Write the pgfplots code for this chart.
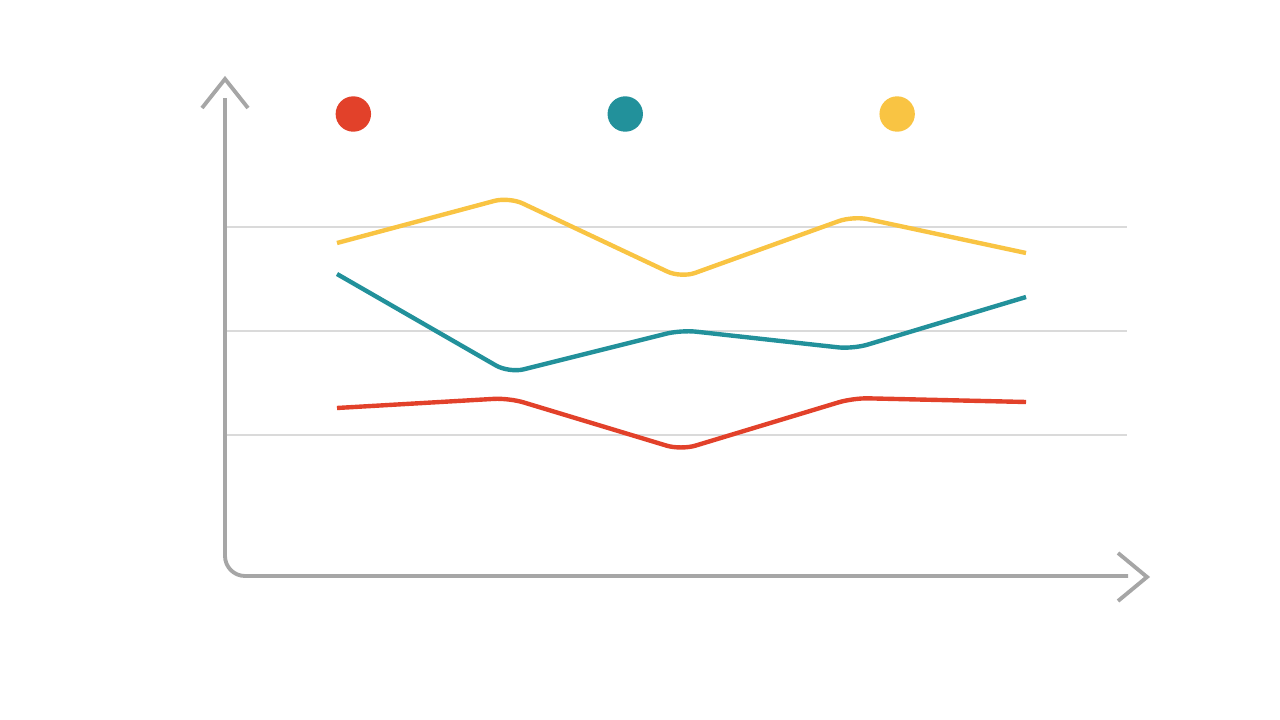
\documentclass[border=0pt]{standalone}
\usepackage{pgfplots}
\pgfplotsset{compat=1.18}

\definecolor{cred}{HTML}{E2412A}
\definecolor{cteal}{HTML}{22919B}
\definecolor{cyellow}{HTML}{F9C443}
\definecolor{caxis}{HTML}{A6A6A6}
\definecolor{cgrid}{HTML}{DADADA}

\begin{document}
\begin{tikzpicture}
\begin{axis}[
    scale only axis,
    width=12.8cm, height=7.2cm,
    xmin=0, xmax=1280,
    ymin=0, ymax=720,
    axis lines=none,
    clip=false,
    legend columns=3,
    legend image code/.code={\fill (0cm,0cm) circle (0.155cm);},
    legend style={draw=none, fill=none, inner sep=0pt,
        nodes={inner sep=0pt, text depth=0pt},
        at={(axis cs:627,606)}, anchor=center,
        /tikz/every odd column/.style={column sep=0pt},
        /tikz/every even column/.style={column sep=2.33cm}},
]
% full canvas
\path (axis cs:0,0) rectangle (axis cs:1280,720);

% grid lines
\draw[cgrid, line width=0.3pt] (axis cs:225,285) -- (axis cs:1127,285);
\draw[cgrid, line width=0.3pt] (axis cs:225,389) -- (axis cs:1127,389);
\draw[cgrid, line width=0.3pt] (axis cs:225,493) -- (axis cs:1127,493);

% axes
\draw[caxis, line width=1.1pt, rounded corners=0.2cm]
    (axis cs:225,622) -- (axis cs:225,144) -- (axis cs:1128,144);
\draw[caxis, line width=1.1pt]
    (axis cs:202,612) -- (axis cs:225,641) -- (axis cs:248,612);
\draw[caxis, line width=1.1pt]
    (axis cs:1118,167) -- (axis cs:1147,143) -- (axis cs:1118,119);

% series (pixel heights above the bottom edge)
\addplot[cred, line width=1.25pt, rounded corners=0.15cm] coordinates {
    (337,312) (509,322) (681,270) (853,322) (1026,318)
};
\addlegendentry{}
\addplot[cteal, line width=1.25pt, rounded corners=0.15cm] coordinates {
    (337,446) (509,347) (681,390) (853,371) (1026,423)
};
\addlegendentry{}
\addplot[cyellow, line width=1.25pt, rounded corners=0.15cm] coordinates {
    (337,477) (509,523) (681,442) (853,504) (1026,467)
};
\addlegendentry{}
\end{axis}
\end{tikzpicture}
\end{document}
